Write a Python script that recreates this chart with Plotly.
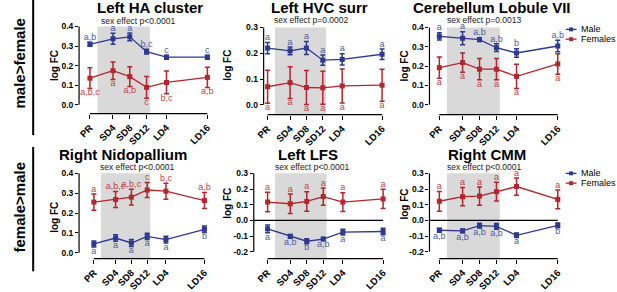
import plotly.graph_objects as go

# ---------------- data ----------------
labels = ["PR", "SD4", "SD8", "SD12", "LD4", "LD16"]
weeks = [-1.5, 4, 8, 12, 16.75, 26.5]

# Left HA cluster
ha_m = [0.309, 0.337, 0.347, 0.271, 0.243, 0.243]
ha_m_err = [0.010, 0.028, 0.020, 0.012, 0.010, 0.010]
ha_f = [0.136, 0.174, 0.144, 0.089, 0.114, 0.140]
ha_f_err = [0.053, 0.045, 0.050, 0.055, 0.058, 0.052]
ha_m_grp = ["a,b", "a", "a", "b,c", "c", "c"]
ha_f_grp = ["a,b,c", "a", "a,b", "c", "b,c", "a,b"]

# Left HVC surr
hvc_m = [0.220, 0.209, 0.220, 0.173, 0.176, 0.196]
hvc_m_err = [0.022, 0.015, 0.025, 0.020, 0.022, 0.020]
hvc_f = [0.070, 0.086, 0.067, 0.066, 0.073, 0.076]
hvc_f_err = [0.064, 0.062, 0.066, 0.064, 0.066, 0.062]
hvc_m_grp = ["a", "a", "a", "a", "a", "a"]
hvc_f_grp = ["a", "a", "a", "a", "a", "a"]

# Cerebellum Lobule VII
cb_m = [0.354, 0.344, 0.337, 0.295, 0.268, 0.304]
cb_m_err = [0.019, 0.034, 0.010, 0.020, 0.022, 0.030]
cb_f = [0.192, 0.218, 0.184, 0.184, 0.147, 0.211]
cb_f_err = [0.055, 0.050, 0.055, 0.055, 0.063, 0.053]
cb_m_grp = ["a", "a", "a,b", "a,b", "b", "a,b"]
cb_f_grp = ["a", "a", "a", "a", "a", "a"]

# Right Nidopallium
nido_m = [0.044, 0.074, 0.049, 0.082, 0.066, 0.118]
nido_m_err = [0.015, 0.016, 0.018, 0.016, 0.017, 0.016]
nido_f = [0.255, 0.268, 0.280, 0.316, 0.310, 0.263]
nido_f_err = [0.041, 0.040, 0.040, 0.038, 0.040, 0.040]
nido_m_grp = ["a", "a", "a", "a", "a", "b"]
nido_f_grp = ["a", "a,b,c", "a,b,c", "c", "b,c", "a,b"]

# Left LFS
lfs_m = [-0.054, -0.102, -0.133, -0.119, -0.075, -0.071]
lfs_m_err = [0.025, 0.012, 0.016, 0.010, 0.018, 0.020]
lfs_f = [0.117, 0.106, 0.121, 0.152, 0.117, 0.137]
lfs_f_err = [0.062, 0.062, 0.062, 0.055, 0.060, 0.062]
lfs_m_grp = ["a", "a,b", "b", "a,b", "a", "a"]
lfs_f_grp = ["a", "a", "a", "a", "a", "a"]

# Right CMM
cmm_m = [-0.063, -0.067, -0.034, -0.038, -0.095, -0.032]
cmm_m_err = [0.012, 0.012, 0.015, 0.018, 0.015, 0.015]
cmm_f = [0.122, 0.151, 0.155, 0.183, 0.216, 0.134]
cmm_f_err = [0.063, 0.058, 0.058, 0.060, 0.055, 0.060]
cmm_m_grp = ["a,b", "a,b", "a,b", "a,b", "a", "b"]
cmm_f_grp = ["a", "a", "a", "a", "a", "a"]

sex_effect = ["p<0.0001", "p=0.0002", "p=0.0013", "p<0.0001", "p<0.0001", "p<0.0001"]
titles = ["Left HA cluster", "Left HVC surr", "Cerebellum Lobule VII",
          "Right Nidopallium", "Left LFS", "Right CMM"]

# ---------------- style ----------------
W, H = 617, 292
MALE = "#2B3990"
FEMALE = "#B3262B"
MALE_TXT = "#4E5B9E"
FEMALE_TXT = "#C4443C"
FONT = "Liberation Sans, Arial, sans-serif"


def xp(px):
    return px / W


def yp(py):
    return 1 - py / H


# layout geometry in pixels for each panel
geo = [
    dict(ax=72, pr=83, ld=202, ymin=0.0, ymax=0.4, pymin=107, pymax=27, pxa=116,
         tx=144, ty=8, sx=132, sy=21, lx=47, ly=67, male_up=True),
    dict(ax=259, pr=263, ld=379, ymin=0.0, ymax=0.3, pymin=107, pymax=28, pxa=117,
         tx=316, ty=8, sx=307, sy=20, lx=223, ly=67, male_up=True),
    dict(ax=427, pr=437, ld=557, ymin=0.0, ymax=0.4, pymin=107, pymax=28, pxa=117,
         tx=490, ty=8, sx=483, sy=20, lx=402, ly=67, male_up=True),
    dict(ax=72, pr=87, ld=199, ymin=0.0, ymax=0.4, pymin=258, pymax=177, pxa=264,
         tx=117, ty=158, sx=131, sy=170, lx=47, ly=222, male_up=False),
    dict(ax=249, pr=263, ld=380, ymin=-0.2, ymax=0.3, pymin=257, pymax=177, pxa=264,
         tx=304, ty=158, sx=308, sy=170, lx=223, ly=208, male_up=False),
    dict(ax=427, pr=437, ld=557, ymin=-0.2, ymax=0.3, pymin=257, pymax=177, pxa=264,
         tx=485, ty=158, sx=483, sy=170, lx=402, ly=208, male_up=False),
]

series = [
    (ha_m, ha_m_err, ha_f, ha_f_err, ha_m_grp, ha_f_grp),
    (hvc_m, hvc_m_err, hvc_f, hvc_f_err, hvc_m_grp, hvc_f_grp),
    (cb_m, cb_m_err, cb_f, cb_f_err, cb_m_grp, cb_f_grp),
    (nido_m, nido_m_err, nido_f, nido_f_err, nido_m_grp, nido_f_grp),
    (lfs_m, lfs_m_err, lfs_f, lfs_f_err, lfs_m_grp, lfs_f_grp),
    (cmm_m, cmm_m_err, cmm_f, cmm_f_err, cmm_m_grp, cmm_f_grp),
]

fig = go.Figure()
shapes = []
annotations = []
layout_axes = {}

for i, (g, s) in enumerate(zip(geo, series), start=1):
    sfx = "" if i == 1 else str(i)
    xa, ya = "x" + sfx, "y" + sfx
    m, me, f, fe, mg, fg = s

    ppu = (g["ld"] - g["pr"]) / (weeks[-1] - weeks[0])
    xr0 = weeks[0] - (g["pr"] - g["ax"]) / ppu
    right_px = g["ld"] + 8
    xr1 = weeks[-1] + 8 / ppu
    ppv = (g["pymin"] - g["pymax"]) / (g["ymax"] - g["ymin"])
    yr0 = g["ymin"] - (g["pxa"] - g["pymin"]) / ppv
    top_px = g["pymax"] - 14
    yr1 = g["ymax"] + 14 / ppv

    step = 0.1
    n = int(round((g["ymax"] - g["ymin"]) / step))
    yticks = [round(g["ymin"] + k * step, 2) for k in range(n + 1)]

    layout_axes["xaxis" + sfx] = dict(
        domain=[xp(g["ax"]), xp(right_px)], range=[xr0, xr1], anchor=ya,
        showgrid=False, zeroline=False, showline=False,
        tickmode="array", tickvals=weeks, ticktext=labels, tickangle=-45,
        ticks="outside", ticklen=4, tickwidth=1, tickcolor="black",
        tickfont=dict(family=FONT, size=9.5, color="black", weight="bold"),
        fixedrange=True,
    )
    layout_axes["yaxis" + sfx] = dict(
        domain=[yp(g["pxa"]), yp(top_px)], range=[yr0, yr1], anchor=xa,
        showgrid=False, zeroline=False, showline=False,
        tickmode="array", tickvals=yticks, ticktext=[f"{v:.1f}" for v in yticks],
        ticks="outside", ticklen=3, tickwidth=1, tickcolor="black",
        tickfont=dict(family=FONT, size=8.5, color="black", weight="bold"),
        fixedrange=True,
    )

    # shaded short-day period
    shapes.append(dict(type="rect", xref=xa, yref=ya, x0=0.3, x1=12.8,
                       y0=yr0, y1=g["ymax"], fillcolor="#D9D9D9",
                       line=dict(width=0), layer="below"))
    # axis lines
    shapes.append(dict(type="line", xref=xa + " domain", yref=ya, x0=0, x1=0,
                       y0=g["ymin"], y1=g["ymax"], line=dict(color="black", width=1.2)))
    shapes.append(dict(type="line", xref=xa, yref=ya + " domain", x0=weeks[0], x1=weeks[-1],
                       y0=0, y1=0, line=dict(color="black", width=1.2)))
    if g["ymin"] < 0:
        shapes.append(dict(type="line", xref=xa, yref=ya, x0=xr0, x1=weeks[-1],
                           y0=0, y1=0, line=dict(color="black", width=1.2)))

    for vals, errs, grp, col, tcol, up, name in [
        (m, me, mg, MALE, MALE_TXT, g["male_up"], "Male"),
        (f, fe, fg, FEMALE, FEMALE_TXT, not g["male_up"], "Females"),
    ]:
        fig.add_trace(go.Scatter(
            x=weeks, y=vals, mode="lines+markers", xaxis=xa, yaxis=ya,
            line=dict(color=col, width=1.3),
            marker=dict(symbol="square", size=5, color=col),
            error_y=dict(type="data", array=errs, visible=True, color=col,
                         thickness=1.5, width=2.5),
            showlegend=False, cliponaxis=False, name=name,
        ))
        if up:
            ty = [v + e for v, e in zip(vals, errs)]
            pos = "top center"
        else:
            ty = [v - e for v, e in zip(vals, errs)]
            pos = "bottom center"
        fig.add_trace(go.Scatter(
            x=weeks, y=ty, mode="text", text=grp, textposition=pos,
            textfont=dict(family=FONT, size=9, color=tcol),
            xaxis=xa, yaxis=ya, showlegend=False, cliponaxis=False, hoverinfo="skip",
        ))

    annotations.append(dict(text="<b>" + titles[i - 1] + "</b>", x=xp(g["tx"]), y=yp(g["ty"]),
                            xref="paper", yref="paper", showarrow=False,
                            xanchor="center", yanchor="middle",
                            font=dict(family=FONT, size=15, color="black")))
    annotations.append(dict(text="sex effect " + sex_effect[i - 1], x=xp(g["sx"]), y=yp(g["sy"]),
                            xref="paper", yref="paper", showarrow=False,
                            xanchor="center", yanchor="middle",
                            font=dict(family=FONT, size=8.5, color="#222222")))
    annotations.append(dict(text="<b>log FC</b>", x=xp(g["lx"]), y=yp(g["ly"]),
                            xref="paper", yref="paper", showarrow=False, textangle=-90,
                            xanchor="center", yanchor="middle",
                            font=dict(family=FONT, size=10, color="black")))

# manual legends (top row and bottom row)
for ly0 in (30, 177):
    for k, (name, col) in enumerate([("Male", MALE), ("Females", FEMALE)]):
        yy = ly0 + 10 * k
        shapes.append(dict(type="line", xref="paper", yref="paper",
                           x0=xp(565), x1=xp(576), y0=yp(yy), y1=yp(yy),
                           line=dict(color=col, width=1.3)))
        shapes.append(dict(type="rect", xref="paper", yref="paper",
                           x0=xp(568.5), x1=xp(572.5), y0=yp(yy + 2), y1=yp(yy - 2),
                           fillcolor=col, line=dict(width=0)))
        annotations.append(dict(text=name, x=xp(578), y=yp(yy), xref="paper", yref="paper",
                                showarrow=False, xanchor="left", yanchor="middle",
                                font=dict(family=FONT, size=9, color="black")))

# row labels
for txt, cy, y0, y1 in [("male>female", 65, 0, 138), ("female>male", 212, 150, 277)]:
    annotations.append(dict(text="<b>" + txt + "</b>", x=xp(12), y=yp(cy), xref="paper",
                            yref="paper", showarrow=False, textangle=-90,
                            xanchor="center", yanchor="middle",
                            font=dict(family=FONT, size=15, color="black")))
    shapes.append(dict(type="line", xref="paper", yref="paper", x0=xp(25.5), x1=xp(25.5),
                       y0=yp(y0), y1=yp(y1), line=dict(color="black", width=2)))

fig.update_layout(
    width=W, height=H, margin=dict(l=0, r=0, t=0, b=0),
    paper_bgcolor="white", plot_bgcolor="rgba(0,0,0,0)",
    showlegend=False, shapes=shapes, annotations=annotations,
    **layout_axes,
)

fig.write_html(
    "out.html",
    config={"displayModeBar": False},
    post_script="document.body.style.margin='0';document.body.style.overflow='hidden';",
)
